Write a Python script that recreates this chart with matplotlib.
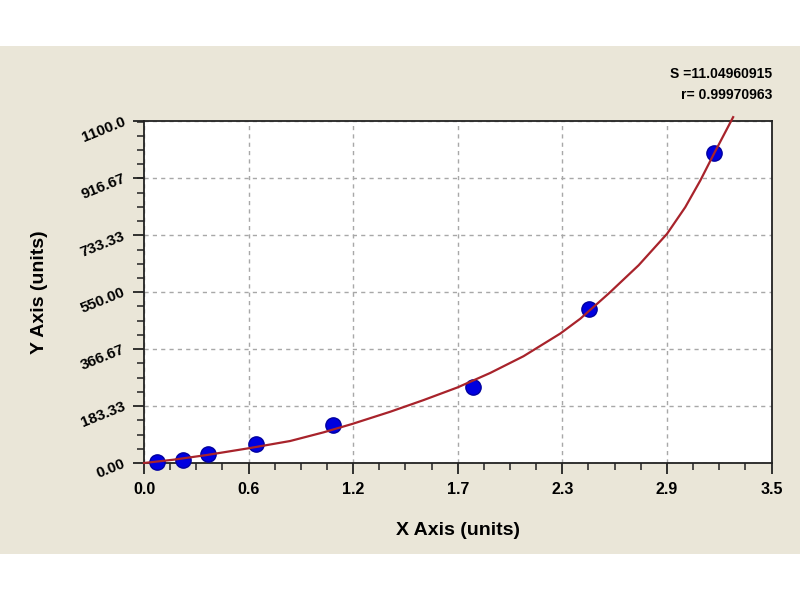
import numpy as np
import matplotlib
matplotlib.use('Agg')
import matplotlib.pyplot as plt
from matplotlib.patches import Rectangle
from matplotlib.ticker import FixedLocator, AutoMinorLocator

plt.rcParams['font.family'] = ['Liberation Sans', 'DejaVu Sans']

# standard points
x_pts = [0.073, 0.218, 0.357, 0.625, 1.055, 1.836, 2.484, 3.180]
y_pts = [3, 10, 29, 61, 122, 244, 495, 997]

# fitted curve samples
x_fit = [0.0, 0.164, 0.350, 0.582, 0.815, 1.001, 1.159, 1.373, 1.559, 1.749,
         1.931, 2.117, 2.322, 2.434, 2.592, 2.759, 2.917, 3.019, 3.103, 3.178, 3.286]
y_fit = [0, 10.6, 25.7, 47.3, 70.8, 98.7, 125.4, 165, 202.6, 243.5,
         290, 344, 417, 465, 546, 637, 738, 824, 910, 995, 1114]

x_ticks = [0, 3.5 / 6, 7 / 6, 1.75, 7 / 3, 17.5 / 6, 3.5]
x_labels = ['0.0', '0.6', '1.2', '1.7', '2.3', '2.9', '3.5']
y_ticks = [0, 183.33, 366.67, 550.0, 733.33, 916.67, 1100.0]
y_labels = ['0.00', '183.33', '366.67', '550.00', '733.33', '916.67', '1100.0']

fig = plt.figure(figsize=(8, 6), dpi=100)
fig.patch.set_facecolor('white')
fig.patches.append(Rectangle((0, 46 / 600), 1, 508 / 600, transform=fig.transFigure,
                             facecolor='#eae6d8', edgecolor='none', zorder=-10))

ax = fig.add_axes([144 / 800, 137 / 600, 627.5 / 800, 341.5 / 600])
ax.set_zorder(1)
ax.set_facecolor('white')
ax.set_xlim(0, 3.5)
ax.set_ylim(0, 1100)

ax.xaxis.set_major_locator(FixedLocator(x_ticks))
ax.yaxis.set_major_locator(FixedLocator(y_ticks))
ax.xaxis.set_minor_locator(AutoMinorLocator(4))
ax.yaxis.set_minor_locator(AutoMinorLocator(4))
ax.set_xticklabels(x_labels, fontsize=11.5, fontweight='bold')
ax.set_yticklabels(y_labels, fontsize=11, fontweight='bold', rotation=22,
                   ha='right', va='center', rotation_mode='anchor')

ax.tick_params(which='major', direction='out', length=8, width=1.3, color='#222222')
ax.tick_params(which='minor', direction='out', length=5, width=1.1, color='#222222')
ax.tick_params(axis='x', pad=6)
ax.tick_params(axis='y', pad=6)

for s in ax.spines.values():
    s.set_linewidth(1.3)
    s.set_color('#222222')

ax.grid(True, which='major', linestyle=(0, (3, 3)), color='#a8a8a8', linewidth=1)
ax.set_axisbelow(True)

ax.plot(x_pts, y_pts, 'o', markersize=11, markerfacecolor='#0000e0',
        markeredgecolor='#0000a0', markeredgewidth=1, zorder=3, clip_on=False)
ax.plot(x_fit, y_fit, color='#a8232b', linewidth=1.6, zorder=4, clip_on=False,
        solid_joinstyle='round')

ax.set_xlabel('X Axis (units)', fontsize=14, fontweight='bold', labelpad=18)
ax.set_ylabel('Y Axis (units)', fontsize=14, fontweight='bold', labelpad=22)

fig.text(772 / 800, 1 - 74 / 600, 'S =11.04960915', ha='right', va='center',
         fontsize=10, fontweight='bold')
fig.text(772 / 800, 1 - 95 / 600, 'r= 0.99970963', ha='right', va='center',
         fontsize=10, fontweight='bold')

fig.savefig('out.png', dpi=100, facecolor=fig.get_facecolor())
